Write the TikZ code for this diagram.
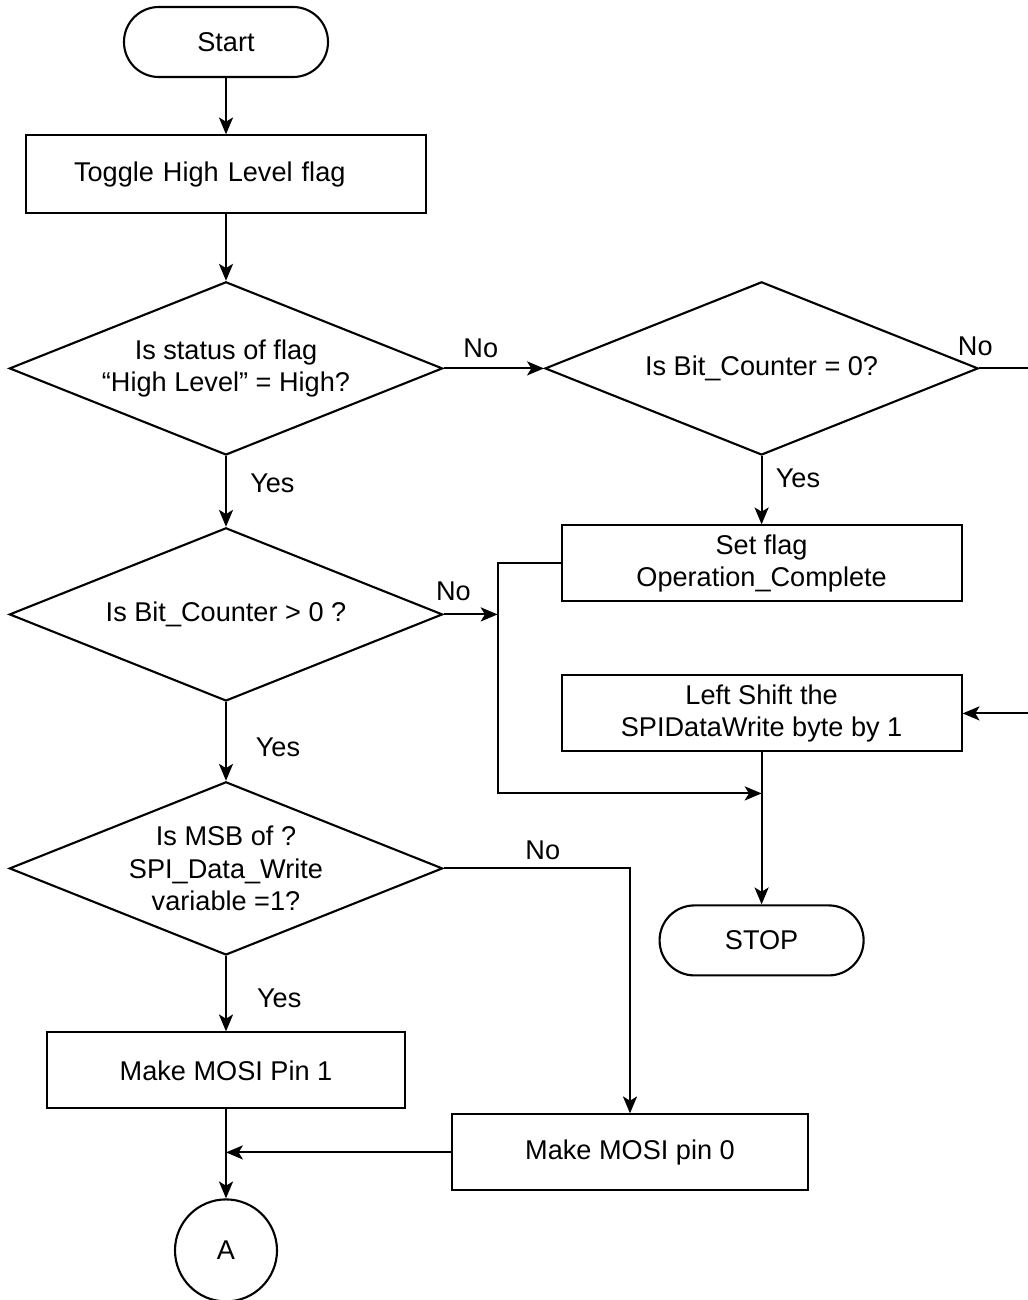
\documentclass[tikz,border=0pt]{standalone}
\usepackage{fontspec}
\setmainfont{Liberation Sans}
\usepackage{tikz}
\usetikzlibrary{shapes.geometric, arrows.meta}
\tikzstyle{startstop} = [rectangle, rounded corners=0.87cm, minimum width=5.1cm, minimum height=1.75cm, text centered, draw=black]
\tikzstyle{process} = [rectangle, minimum width=10cm, minimum height=1.9cm, text centered, draw=black, align=center]
\tikzstyle{decision} = [diamond, aspect=2.5, minimum width=10.83cm, minimum height=4.33cm, inner sep=0pt, text centered, draw=black, align=center]
\tikzstyle{joint} = [circle, minimum size=2.55cm, draw=black]
\tikzstyle{arrow} = [-{Stealth[length=12pt, width=10pt, inset=3pt]}]
\tikzstyle{edgetext} = [inner sep=0pt]

\begin{document}
\begin{tikzpicture}[node distance=2cm, line width=1.5pt, font=\fontsize{19.3}{23.2}\selectfont]
    \useasboundingbox (0,0) rectangle (25.7,-32.5);
    \node (start) [startstop] at (5.65,-1.05) {Start};
    \node (toggle) [process, below of=start, yshift=-1.3cm, minimum height=1.93cm, text width=7.6cm, inner xsep=1.2cm, align=left] {Toggle High Level flag};
    \node (level) [decision, below of=toggle, yshift=-2.86cm] {Is status of flag\\“High Level” = High?};
    \node (zero_check) [decision, right of=level, xshift=11.39cm] {Is Bit\_Counter = 0?};
    \node (count_check) [decision, below of=level, yshift=-4.15cm] {Is Bit\_Counter > 0 ?};
    \node (set_flag) [process, below of=zero_check, yshift=-2.875cm] {Set flag\\Operation\_Complete};
    \node (left_shift) [process, below of=set_flag, yshift=-1.75cm] {Left Shift the\\SPIDataWrite byte by 1};
    \node (stop) [startstop, below of=left_shift, yshift=-3.675cm] {STOP};
    \node (msb_check) [decision, below of=count_check, yshift=-4.35cm] {Is MSB of ?\\SPI\_Data\_Write\\variable =1?};
    \node (pin_one) [process, below of=msb_check, yshift=-3.05cm, minimum width=8.95cm] {Make MOSI Pin 1};
    \node (pin_zero) [process, right of=pin_one, xshift=8.1cm, yshift=-2.05cm, minimum width=8.9cm] {Make MOSI pin 0};
    \node (conn_a) [joint, below of=pin_one, yshift=-2.5cm] {A};
    \coordinate (rim) at (25.7,0);
    \coordinate [below of=left_shift] (merge);
    \coordinate [left of=merge, xshift=-4.6cm] (bypass);
    \draw [arrow] (start) -- (toggle);
    \draw [arrow] (toggle) -- (level);
    \draw [arrow] (level) -- node[edgetext, anchor=south, pos=0.37, yshift=0.23cm] {No} (zero_check);
    \draw (zero_check) -- node[edgetext, anchor=south, pos=0, xshift=-0.1cm, yshift=0.28cm] {No} (zero_check.east -| rim);
    \draw [arrow] (zero_check) -- node[edgetext, anchor=west, pos=0.33, xshift=0.33cm] {Yes} (set_flag);
    \draw [arrow] (set_flag.west) -| (bypass) -- (merge);
    \draw [arrow] (left_shift.east -| rim) -- (left_shift);
    \draw [arrow] (left_shift) -- (stop);
    \draw [arrow] (level) -- node[edgetext, anchor=west, pos=0.38, xshift=0.58cm] {Yes} (count_check);
    \draw [arrow] (count_check) -- node[edgetext, anchor=south, pos=0.18, yshift=0.31cm] {No} (count_check.east -| bypass);
    \draw [arrow] (count_check) -- node[edgetext, anchor=west, pos=0.575, xshift=0.72cm] {Yes} (msb_check);
    \draw [arrow] (msb_check.east) -| node[edgetext, anchor=south, pos=0.266, yshift=0.2cm] {No} (pin_zero);
    \draw [arrow] (msb_check) -- node[edgetext, anchor=west, pos=0.56, xshift=0.75cm] {Yes} (pin_one);
    \draw [arrow] (pin_zero) -- (pin_zero.west -| pin_one.south);
    \draw [arrow] (pin_one) -- (conn_a);
\end{tikzpicture}
\end{document}
